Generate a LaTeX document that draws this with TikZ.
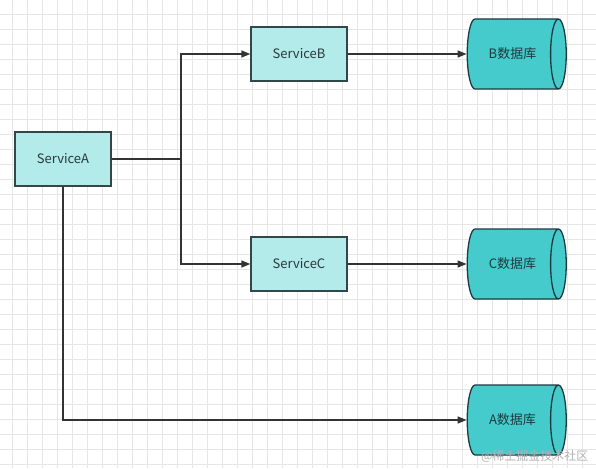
\documentclass[tikz,border=0pt]{standalone}
\usepackage{fontspec}
\setmainfont{Noto Sans CJK SC}
\usetikzlibrary{arrows.meta,shapes.geometric}
\definecolor{boxfill}{HTML}{B3EAEA}
\definecolor{boxline}{HTML}{33474A}
\definecolor{dbfill}{HTML}{45CBCB}
\definecolor{dbline}{HTML}{1E3A3E}
\definecolor{gridcol}{HTML}{E6E6E6}
\definecolor{linecol}{HTML}{333333}
\begin{document}
\begin{tikzpicture}[
x=1pt, y=-1pt,
gridline/.style={draw=gridcol, line width=0.8pt},
service/.style={draw=boxline, fill=boxfill, line width=1.3pt, rectangle, minimum width=96pt, minimum height=54pt, inner sep=0pt, font=\fontsize{13}{15}\selectfont, text=boxline!80!black},
db/.style={draw=dbline, fill=dbfill, line width=1.3pt, cylinder, aspect=1.3, minimum width=70pt, minimum height=99pt, inner sep=0pt, font=\fontsize{13}{15}\selectfont, text=dbline},
flow/.style={draw=linecol, line width=1.4pt, -{Triangle[length=9pt,width=7pt]}}
]
\useasboundingbox (0,0) rectangle (596,468);
\fill[white] (0,0) rectangle (596,468);
% grid
\foreach \i in {0,...,38} {\draw[gridline] ({12.7+15*\i},0) -- ({12.7+15*\i},468);}
\foreach \i in {0,...,30} {\draw[gridline] (0,{14+15*\i}) -- (596,{14+15*\i});}

\node[service] (svcA) at (63,159) {ServiceA};
\node[service] (svcB) at (299,54) {ServiceB};
\node[service] (svcC) at (299,264) {ServiceC};

\node[db] (dbB) at (512.5,54) {B数据库};
\node[db] (dbC) at (512.5,264) {C数据库};
\node[db] (dbA) at (512.5,420) {A数据库};

\coordinate (fork) at (181,159);
\draw[flow] (svcA.east) -- (fork) |- (svcB.west);
\draw[flow] (fork) |- (svcC.west);
\draw[flow] (svcA.south) |- (dbA.west);
\draw[flow] (svcB.east) -- (dbB.west);
\draw[flow] (svcC.east) -- (dbC.west);

% watermark
\node[text=black!30, font=\fontsize{12}{14}\selectfont, anchor=east] (mark) at (592,456) {@稀土掘金技术社区};
\end{tikzpicture}
\end{document}
